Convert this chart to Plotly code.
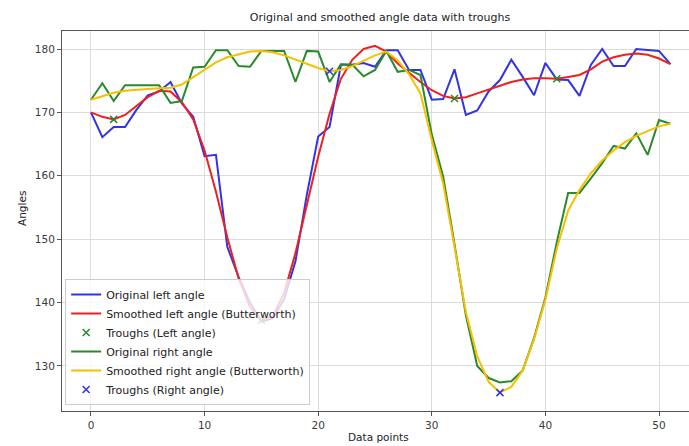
import plotly.graph_objects as go

# Frame index for every sample
points = list(range(52))

left_original = [
    170.0, 166.1, 167.7, 167.7, 170.4, 172.7, 173.3, 174.8, 171.4, 169.3,
    163.1, 163.3, 148.8, 144.0, 140.0, 137.0, 137.5, 140.5, 146.5, 157.0,
    166.2, 167.7, 177.5, 177.5, 177.8, 177.2, 179.8, 179.8, 176.7, 176.7,
    172.0, 172.1, 176.8, 169.6, 170.3, 173.3, 175.1, 178.3, 175.6, 172.7,
    177.8, 175.2, 175.1, 172.6, 177.5, 180.0, 177.3, 177.3, 180.0, 179.8,
    179.7, 177.6,
]

left_smoothed = [
    170.0, 169.3, 168.9, 169.6, 171.0, 172.4, 173.4, 173.3, 171.6, 168.9,
    164.0, 157.5, 150.3, 143.8, 139.3, 137.2, 137.8, 141.5, 147.8, 155.5,
    163.0, 169.8, 175.3, 178.3, 180.0, 180.5, 179.6, 177.7, 176.2, 174.8,
    173.5, 172.6, 172.2, 172.4, 173.0, 173.6, 174.2, 174.8, 175.2, 175.4,
    175.4, 175.3, 175.6, 175.9, 176.8, 178.0, 178.7, 179.1, 179.3, 179.1,
    178.5, 177.6,
]

right_original = [
    172.0, 174.6, 171.8, 174.3, 174.3, 174.3, 174.3, 171.5, 171.8, 177.1,
    177.2, 179.8, 179.8, 177.3, 177.2, 179.7, 179.7, 179.7, 174.8, 179.7,
    179.6, 174.8, 177.6, 177.5, 175.7, 176.7, 179.7, 176.4, 176.7, 175.9,
    166.5, 159.9, 149.2, 138.0, 130.0, 128.1, 127.4, 127.6, 129.3, 134.4,
    140.8, 149.5, 157.3, 157.3, 159.6, 162.0, 164.7, 164.3, 166.7, 163.3,
    168.8, 168.2,
]

right_smoothed = [
    172.0, 172.6, 173.1, 173.4, 173.6, 173.7, 173.8, 173.9, 174.4, 175.6,
    176.8, 177.9, 178.7, 179.2, 179.6, 179.7, 179.5, 179.0, 178.3, 177.6,
    177.0, 176.5, 176.7, 177.3, 178.1, 179.0, 179.6, 178.2, 176.0, 173.0,
    165.6, 158.8, 148.8, 138.5, 131.5, 127.5, 125.8, 126.7, 129.3, 134.2,
    140.5, 148.5, 154.5, 157.8, 160.4, 162.4, 164.0, 165.3, 166.3, 167.1,
    167.8, 168.2,
]

# Local minima of the smoothed curves
left_trough_idx = [2, 15, 32, 41]
right_trough_idx = [21, 36]

x_ticks = [0, 10, 20, 30, 40, 50]
y_ticks = [130, 140, 150, 160, 170, 180]

FONT = "DejaVu Sans"
TEXT = "#3a3a3a"

fig = go.Figure()

fig.add_trace(go.Scatter(
    x=points, y=left_original, mode="lines", name="Original left angle",
    line=dict(color="#3333e6", width=2),
))
fig.add_trace(go.Scatter(
    x=points, y=left_smoothed, mode="lines",
    name="Smoothed left angle (Butterworth)",
    line=dict(color="#ee2020", width=2),
))
fig.add_trace(go.Scatter(
    x=left_trough_idx, y=[left_smoothed[i] for i in left_trough_idx],
    mode="markers", name="Troughs (Left angle)",
    marker=dict(symbol="x-thin", size=7, color="#2a8a2a",
                line=dict(color="#2a8a2a", width=1.5)),
))
fig.add_trace(go.Scatter(
    x=points, y=right_original, mode="lines", name="Original right angle",
    line=dict(color="#2a8a2a", width=2),
))
fig.add_trace(go.Scatter(
    x=points, y=right_smoothed, mode="lines",
    name="Smoothed right angle (Butterworth)",
    line=dict(color="#f5c000", width=2),
))
fig.add_trace(go.Scatter(
    x=right_trough_idx, y=[right_smoothed[i] for i in right_trough_idx],
    mode="markers", name="Troughs (Right angle)",
    marker=dict(symbol="x-thin", size=7, color="#3333e6",
                line=dict(color="#3333e6", width=1.5)),
))

axis_common = dict(
    showgrid=True, gridcolor="#dcdcdc", gridwidth=1,
    zeroline=False, showline=True, linecolor="#555555", linewidth=1,
    ticks="outside", ticklen=4, tickcolor="#555555",
    tickfont=dict(family=FONT, size=10.5, color=TEXT),
)

fig.update_layout(
    width=689, height=446,
    margin=dict(l=62, r=0, t=31, b=35),
    paper_bgcolor="white", plot_bgcolor="white",
    font=dict(family=FONT, color=TEXT),
    title=dict(text="Original and smoothed angle data with troughs",
               x=380 / 689, xref="container", xanchor="center",
               y=1 - 17 / 446, yref="container", yanchor="middle",
               font=dict(family=FONT, size=11, color="#222222")),
    xaxis=dict(range=[-2.55, 52.64], tickvals=x_ticks, mirror=True,
               **axis_common),
    yaxis=dict(range=[122.9, 182.84], tickvals=y_ticks, mirror=False,
               **axis_common),
    legend=dict(x=0.005, y=0.016, xanchor="left", yanchor="bottom",
                bgcolor="rgba(255,255,255,0.8)", bordercolor="#cccccc",
                borderwidth=1, font=dict(family=FONT, size=11, color="#222222"),
                tracegroupgap=0, itemwidth=30),
    showlegend=True,
    annotations=[
        dict(text="Data points", xref="paper", yref="paper",
             x=(378 - 62) / 627, y=-(437 - 411) / 380,
             xanchor="center", yanchor="middle", showarrow=False,
             font=dict(family=FONT, size=10.5, color="#222222")),
        dict(text="Angles", xref="paper", yref="paper", textangle=-90,
             x=-(62 - 22) / 627, y=(411 - 209) / 380,
             xanchor="center", yanchor="middle", showarrow=False,
             font=dict(family=FONT, size=10.5, color="#222222")),
    ],
)

fig.write_html("out.html")
